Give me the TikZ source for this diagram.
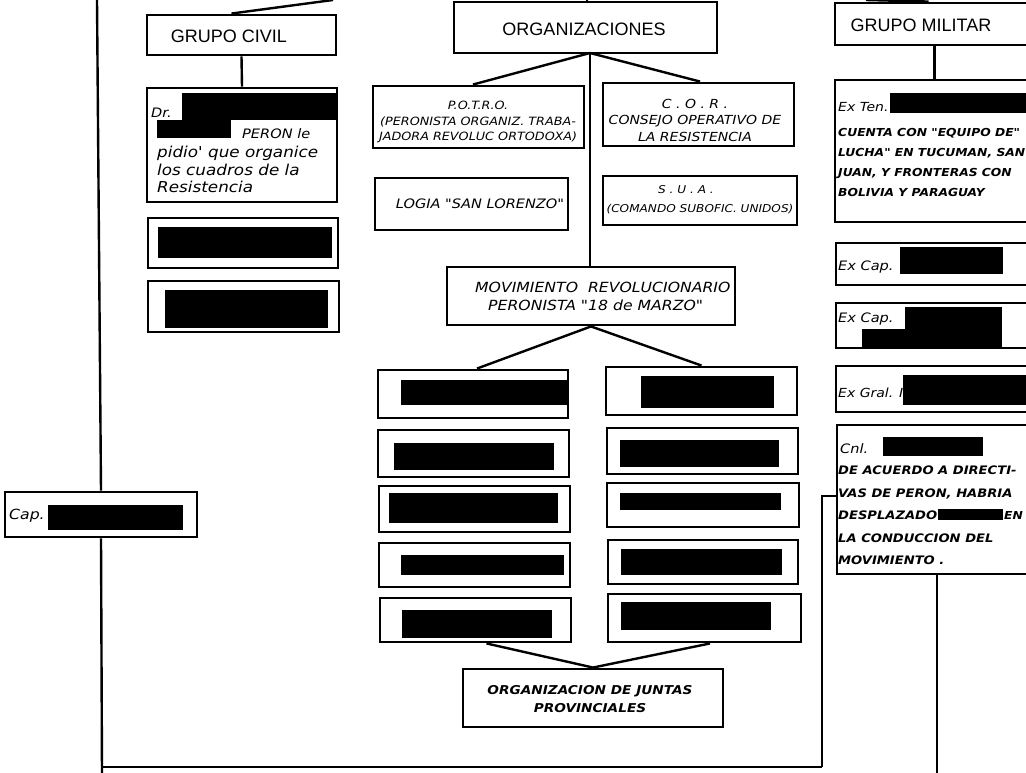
\documentclass[tikz,border=0pt]{standalone}
\usepackage{fontspec}
\setmainfont{DejaVu Sans}
\newfontfamily\headfont{Liberation Sans}
\newfontfamily\handfam{DejaVu Sans}[FakeStretch=1.12, BoldFont={DejaVu Sans Bold}, ItalicFont={DejaVu Sans Oblique}, BoldItalicFont={DejaVu Sans Bold Oblique}]
\newcommand\hwfont[2]{\handfam\itshape\fontsize{#1}{#2}\selectfont}
\usetikzlibrary{fit}
\begin{document}
\begin{tikzpicture}[x=1pt,y=-1pt,
  box/.style={draw, line width=2.9pt, inner sep=0pt, rectangle},
  link/.style={line width=2.4pt},
  head/.style={font=\headfont\fontsize{18}{20}\selectfont, inner sep=0pt},
  tx/.style={inner sep=0pt}]
\useasboundingbox (0,0) rectangle (1026,773);
\fill[white] (0,0) rectangle (1026,773);

% ---------- boxes ----------
\node[box, fit={(147,15) (336,55)}] (civil) {};
\node[box, fit={(147,88) (337,202)}] (dr) {};
\node[box, fit={(148,218) (338,268)}] (c2) {};
\node[box, fit={(148,281) (339,332)}] (c3) {};
\node[box, fit={(454,2) (717,53)}] (org) {};
\node[box, fit={(373,86) (584,148)}] (potro) {};
\node[box, fit={(603,83) (794,146)}] (cor) {};
\node[box, fit={(375,178) (568,230)}] (logia) {};
\node[box, fit={(603,176) (797,225)}] (sua) {};
\node[box, fit={(447,267) (735,325)}] (mov) {};
\node[box, fit={(378,370) (568,418)}] (l1) {};
\node[box, fit={(378,430) (569,477)}] (l2) {};
\node[box, fit={(379,486) (570,532)}] (l3) {};
\node[box, fit={(379,543) (570,587)}] (l4) {};
\node[box, fit={(380,598) (571,642)}] (l5) {};
\node[box, fit={(606,367) (797,415)}] (r1) {};
\node[box, fit={(607,428) (798,474)}] (r2) {};
\node[box, fit={(607,483) (799,527)}] (r3) {};
\node[box, fit={(608,540) (798,584)}] (r4) {};
\node[box, fit={(608,594) (801,642)}] (r5) {};
\node[box, fit={(463,669) (723,727)}] (juntas) {};
\node[box, fit={(835,3) (1034,45)}] (militar) {};
\node[box, fit={(835,80) (1034,222)}] (exten) {};
\node[box, fit={(836,243) (1034,285)}] (excapa) {};
\node[box, fit={(836,303) (1034,348)}] (excapb) {};
\node[box, fit={(836,366) (1034,412)}] (exgral) {};
\node[box, fit={(837,425) (1034,574)}] (cnl) {};
\node[box, fit={(5,492) (197,537)}] (capl) {};

% ---------- redactions ----------
\fill[black] (182,93) rectangle (338,120);
\fill[black] (157,120) rectangle (231,138);
\fill[black] (158,227) rectangle (332,258);
\fill[black] (165,290) rectangle (328,328);
\fill[black] (401,380) rectangle (567,405);
\fill[black] (394,443) rectangle (554,470);
\fill[black] (389,493) rectangle (558,523);
\fill[black] (401,555) rectangle (564,575);
\fill[black] (402,610) rectangle (552,638);
\fill[black] (641,376) rectangle (774,408);
\fill[black] (620,440) rectangle (779,467);
\fill[black] (620,493) rectangle (781,510);
\fill[black] (621,549) rectangle (782,575);
\fill[black] (621,602) rectangle (771,630);
\fill[black] (890,93) rectangle (1030,113);
\fill[black] (900,247) rectangle (1003,274);
\fill[black] (905,307) rectangle (1002,347);
\fill[black] (862,329) rectangle (905,347);
\fill[black] (903,375) rectangle (1030,405);
\fill[black] (883,437) rectangle (983,456);
\fill[black] (938,509) rectangle (1003,520);
\fill[black] (48,505) rectangle (183,530);

% ---------- texts ----------
\node[head] (civilt) at (229,36) {GRUPO CIVIL};
\node[head] (orgt) at (584,29) {ORGANIZACIONES};
\node[head] (milt) at (921,25) {GRUPO MILITAR};

\node[tx, font=\hwfont{13}{13}, anchor=base west] (drt) at (151,118) {Dr.};
\node[tx, font=\hwfont{13}{13}, anchor=base west] (peront) at (242,139) {PERON le};
\node[tx, font=\hwfont{15}{17.5}, anchor=north west, align=left] (drbody) at (157,146) {pidio' que organice\\los cuadros de la\\Resistencia};

\node[tx, font=\hwfont{11.4}{15.5}, align=center] (potrot) at (478,122) {P.O.T.R.O.\\(PERONISTA ORGANIZ. TRABA-\\JADORA REVOLUC ORTODOXA)};
\node[tx, font=\hwfont{12.5}{16.5}, align=center] (cort) at (695,120) {C . O . R .\\CONSEJO OPERATIVO DE\\LA RESISTENCIA};
\node[tx, font=\hwfont{13}{13}] (logiat) at (480,204) {LOGIA "SAN LORENZO"};
\node[tx, font=\hwfont{10.8}{19}, align=center] (suat) at (700,200) {S . U . A .\hspace*{28pt}\\(COMANDO SUBOFIC. UNIDOS)};
\node[tx, font=\hwfont{14}{18}, anchor=north west, align=left] (movt) at (475,282) {MOVIMIENTO\ \ REVOLUCIONARIO\\\hspace*{13pt}PERONISTA "18 de MARZO"};
\node[tx, font=\hwfont{12.2}{18}\bfseries, align=center] (juntast) at (590,699) {ORGANIZACION DE JUNTAS\\PROVINCIALES};

\node[tx, font=\hwfont{12.5}{12.5}, anchor=base west] (tent) at (838,112) {Ex Ten.};
\node[tx, font=\hwfont{11}{20}\bfseries, anchor=north west, align=left] (tenbody) at (838,128) {CUENTA CON "EQUIPO DE"\\LUCHA" EN TUCUMAN, SAN\\JUAN, Y FRONTERAS CON\\BOLIVIA Y PARAGUAY};
\node[tx, font=\hwfont{13}{13}, anchor=base west] (capat) at (838,270) {Ex Cap.};
\node[tx, font=\hwfont{13}{13}, anchor=base west] (capbt) at (838,322) {Ex Cap.};
\node[tx, font=\hwfont{12.5}{12.5}, anchor=base west] (gralt) at (838,397) {Ex Gral. I};
\node[tx, font=\hwfont{13}{13}, anchor=base west] (cnlt) at (840,453) {Cnl.};
\node[tx, font=\hwfont{11.7}{22.5}\bfseries, anchor=north west, align=left] (cnlbody) at (838,466) {DE ACUERDO A DIRECTI-\\VAS DE PERON, HABRIA\\DESPLAZADO\\LA CONDUCCION DEL\\MOVIMIENTO .};
\node[tx, font=\hwfont{11}{11}\bfseries, anchor=base west] (ent) at (1004,519) {EN};
\node[tx, font=\hwfont{14}{14}, anchor=base west] (caplt) at (9,519) {Cap.};

% ---------- connectors ----------
\coordinate (civtop) at (333,0);
\coordinate (orgtop) at (587,0);
\coordinate (miltop) at (866,0);
\coordinate (orgb) at (590,53);
\coordinate (lt) at (97,0);
\coordinate (lb) at (102,773);
\coordinate (bl) at (102,767);
\coordinate (br) at (822,767);
\coordinate (bt) at (822,496);
\coordinate (cb) at (937,773);

\draw[link] (civtop) -- ([xshift=-10pt]civil.north);
\draw[link] (orgtop) -- (orgtop |- org.north);
\draw[link] (miltop) -- ([xshift=-6pt]militar.north);
\draw[link] (civil.south) -- (dr.north);
\draw[link] (militar.south) -- (exten.north);
\draw[link] (orgb) -- ([xshift=-5.5pt]potro.north);
\draw[link] (orgb) -- ([xshift=1.5pt]cor.north);
\draw[link] (orgb) -- (orgb |- mov.north);
\draw[link] (mov.south) -- ([xshift=4pt]l1.north);
\draw[link] (mov.south) -- (r1.north);
\draw[link] ([xshift=11pt]l5.south) -- (juntas.north);
\draw[link] ([xshift=5.5pt]r5.south) -- (juntas.north);
\draw[link] (lt) -- (capl.north);
\draw[link] (capl.south) -- (lb);
\draw[line width=1.7pt] (bl) -- (br);
\draw[link] (br) -- (bt) -- (bt -| cnl.west);
\draw[link] (cb |- cnl.south) -- (cb);
\end{tikzpicture}
\end{document}
